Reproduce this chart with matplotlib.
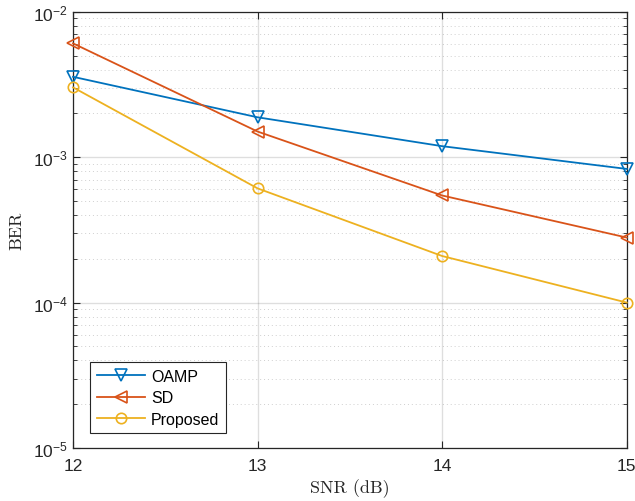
import matplotlib
matplotlib.use("Agg")
import matplotlib.pyplot as plt
from matplotlib.ticker import LogLocator, NullFormatter

# SNR points (dB)
snr_db = [12, 13, 14, 15]

# BER curves
ber_oamp = [3.57e-3, 1.88e-3, 1.19e-3, 8.3e-4]
ber_sd = [6.06e-3, 1.50e-3, 5.45e-4, 2.8e-4]
ber_proposed = [3.02e-3, 6.1e-4, 2.09e-4, 1.0e-4]

labels = ["OAMP", "SD", "Proposed"]

# MATLAB default colours
C_BLUE = (0.0, 0.447, 0.741)
C_ORANGE = (0.85, 0.325, 0.098)
C_YELLOW = (0.929, 0.694, 0.125)
AX_GRAY = (0.15, 0.15, 0.15)

plt.rcParams["font.family"] = ["Liberation Sans", "DejaVu Sans"]
plt.rcParams["mathtext.fontset"] = "custom"
plt.rcParams["mathtext.rm"] = "Liberation Sans"
plt.rcParams["mathtext.it"] = "Liberation Sans:italic"

fig = plt.figure(figsize=(6.35, 5.02), dpi=100)
ax = fig.add_axes([0.115, 0.1056, 0.872, 0.869])

ax.semilogy(snr_db, ber_oamp, color=C_BLUE, marker="v", markersize=8,
            markerfacecolor="none", markeredgewidth=1.2, lw=1.3,
            label=labels[0], clip_on=False, zorder=3)
ax.semilogy(snr_db, ber_sd, color=C_ORANGE, marker="<", markersize=8,
            markerfacecolor="none", markeredgewidth=1.2, lw=1.3,
            label=labels[1], clip_on=False, zorder=3)
ax.semilogy(snr_db, ber_proposed, color=C_YELLOW, marker="o", markersize=7.5,
            markerfacecolor="none", markeredgewidth=1.2, lw=1.3,
            label=labels[2], clip_on=False, zorder=3)

ax.set_xlim(12, 15)
ax.set_ylim(1e-5, 1e-2)
ax.set_xticks(snr_db)
ax.yaxis.set_major_locator(LogLocator(base=10, numticks=10))
ax.yaxis.set_minor_locator(LogLocator(base=10, subs=range(2, 10), numticks=20))
ax.yaxis.set_minor_formatter(NullFormatter())

ax.grid(True, which="major", color=AX_GRAY, alpha=0.15, lw=1.0, ls="-")
ax.grid(True, which="minor", axis="y", color=AX_GRAY, alpha=0.22, lw=0.7, ls=(0, (1, 3)))

ax.tick_params(which="both", direction="in", top=True, right=True,
               colors=AX_GRAY, labelcolor=AX_GRAY, labelsize=12.5)
ax.tick_params(which="major", length=5, width=0.8)
ax.tick_params(which="minor", length=3, width=0.6)
ax.tick_params(axis="x", pad=7)
for sp in ax.spines.values():
    sp.set_color(AX_GRAY)
    sp.set_linewidth(0.9)

ax.set_xlabel("SNR (dB)", fontfamily="cmr10", fontsize=13, color=AX_GRAY, labelpad=4)
ax.set_ylabel("BER", fontfamily="cmr10", fontsize=13, color=AX_GRAY, labelpad=6)

leg = ax.legend(loc="lower left", bbox_to_anchor=(0.017, 0.016), fontsize=11.5,
                fancybox=False, framealpha=1, edgecolor=AX_GRAY,
                handlelength=3.0, handletextpad=0.4, borderpad=0.4, labelspacing=0.4)
leg.get_frame().set_linewidth(0.8)

fig.savefig("out.png", dpi=100)
